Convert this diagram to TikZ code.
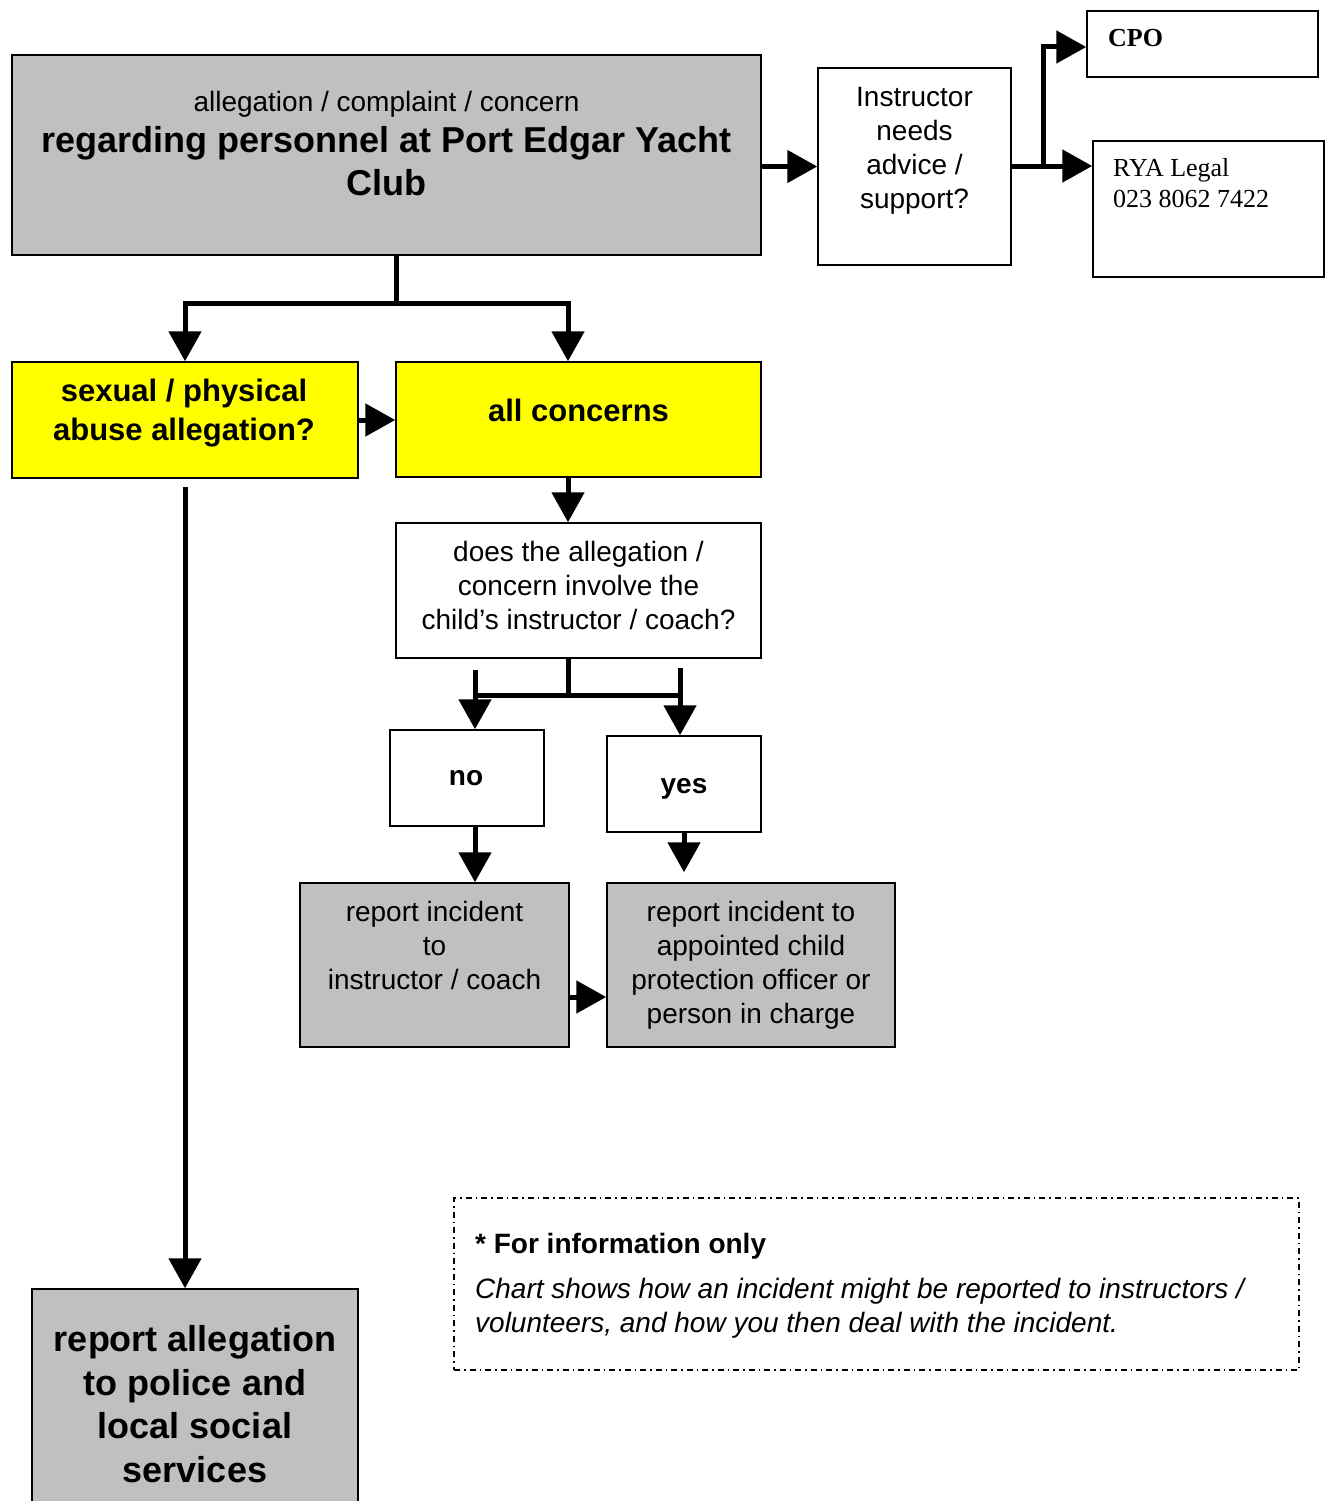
\documentclass[tikz,border=0pt]{standalone}
\usepackage{fontspec}
\setmainfont{Liberation Sans}
\newfontfamily\timesfam{Liberation Serif}
\usetikzlibrary{arrows.meta}
\definecolor{boxgray}{HTML}{C0C0C0}
\definecolor{boxyellow}{HTML}{FFFF00}
\newcommand\setfsz[2]{\fontsize{#1}{#2}\selectfont}
\begin{document}
\begin{tikzpicture}[x=1pt,y=-1pt,
  box/.style={draw=black, line width=1.5pt, inner sep=0pt, rectangle},
  graybox/.style={box, fill=boxgray},
  yelbox/.style={box, fill=boxyellow},
  whitebox/.style={box, fill=white},
  txt/.style={inner sep=0pt, align=center},
  reg/.style={txt, font=\setfsz{28}{34}},
  conn/.style={line width=5pt},
  arr/.style={conn, -{Triangle[length=30pt,width=32pt]}},
  notebox/.style={draw=black, line width=1.2pt, dash pattern=on 6pt off 4pt on 1.5pt off 4pt, inner sep=0pt}
]
\useasboundingbox (0,0) rectangle (1332,1501);
\fill[white] (0,0) rectangle (1332,1501);

% boxes
\node[graybox, minimum width=749pt, minimum height=200pt] (top) at (386.5,155) {};
\node[whitebox, minimum width=193pt, minimum height=197pt] (instr) at (914.5,166.5) {};
\node[whitebox, minimum width=231pt, minimum height=66pt] (cpo) at (1202.5,44) {};
\node[whitebox, minimum width=231pt, minimum height=136pt] (rya) at (1208.5,209) {};
\node[yelbox, minimum width=346pt, minimum height=116pt] (sex) at (185,420) {};
\node[yelbox, minimum width=365pt, minimum height=115pt] (allc) at (578.5,419.5) {};
\node[whitebox, minimum width=365pt, minimum height=135pt] (does) at (578.5,590.5) {};
\node[whitebox, minimum width=154pt, minimum height=96pt] (no) at (467,778) {};
\node[whitebox, minimum width=154pt, minimum height=96pt] (yes) at (684,784) {};
\node[graybox, minimum width=269pt, minimum height=164pt] (repI) at (434.5,965) {};
\node[graybox, minimum width=288pt, minimum height=164pt] (repA) at (751,965) {};
\node[graybox, minimum width=326pt, minimum height=224pt] (repP) at (195,1401) {};
\node[notebox, minimum width=845pt, minimum height=172pt] (note) at (876.5,1284) {};

% texts
\node[reg] (topT1) at (386.5,104) {allegation / complaint / concern};
\node[txt, font=\setfsz{36}{43}\bfseries] (topT2) at (386.5,161) {regarding personnel at Port Edgar Yacht\\ Club};
\node[reg] (instrT) at (914.5,151) {Instructor\\ needs\\ advice /\\ support?};
\node[txt, anchor=west, font=\setfsz{26}{31}\timesfam\bfseries] (cpoT) at (1108,38) {CPO};
\node[txt, anchor=north west, align=left, font=\setfsz{26}{31}\timesfam] (ryaT) at (1113,158) {RYA Legal\\ 023 8062 7422};
\node[txt, font=\setfsz{31}{39}\bfseries] (sexT) at (184,413) {sexual / physical\\ abuse allegation?};
\node[txt, font=\setfsz{31}{39}\bfseries] (allcT) at (578.5,410) {all concerns};
\node[reg] (doesT) at (578.5,585) {does the allegation /\\ concern involve the\\ child’s instructor / coach?};
\node[reg, font=\setfsz{28}{34}\bfseries] (noT) at (466,778) {no};
\node[reg, font=\setfsz{28}{34}\bfseries] (yesT) at (684,789) {yes};
\node[reg] (repIT) at (434.5,945) {report incident\\ to\\ instructor / coach};
\node[reg] (repAT) at (751,965) {report incident to\\ appointed child\\ protection officer or\\ person in charge};
\node[txt, font=\setfsz{36}{43.5}\bfseries] (repPT) at (195,1404) {report allegation\\ to police and\\ local social\\ services};
\node[reg, anchor=west, font=\setfsz{28}{34}\bfseries] (noteT1) at (475,1246) {* For information only};
\node[reg, anchor=west, align=left, font=\setfsz{28}{34}\itshape] (noteT2) at (475,1308) {Chart shows how an incident might be reported to instructors /\\ volunteers, and how you then deal with the incident.};

% coordinates
\coordinate (f1) at (1043,166);
\coordinate (s1) at (396,303);
\coordinate (s1r) at (568,303);
\coordinate (s2) at (568,695);
\coordinate (s2l) at (475,695);
\coordinate (s2r) at (680,695);
\coordinate (n1) at (475,670);
\coordinate (y1) at (680,668);
\coordinate (r1) at (0,997);

% connectors
\draw[arr] (top.east |- instr.west) -- (instr.west);
\draw[conn] (instr.east |- f1) -- (f1);
\draw[arr] (f1) |- ([yshift=-3pt]cpo.west);
\draw[arr] (f1) -- (rya.west |- f1);
\draw[conn] (s1 |- top.south) -- (s1);
\draw[arr] (s1) -| (sex.north);
\draw[arr] (s1) -- (s1r) -- (allc.north -| s1r);
\draw[arr] (sex.east) -- (sex.east -| allc.west);
\draw[arr] (allc.south -| s1r) -- (does.north -| s1r);
\draw[conn] (does.south -| s2) -- (s2);
\draw[conn] (s2l) -- (s2r);
\draw[arr] (n1) -- (no.north -| n1);
\draw[arr] (y1) -- (yes.north -| y1);
\draw[arr] (no.south -| n1) -- (repI.north -| n1);
\draw[arr, shorten >=10pt] (yes.south) -- (repA.north -| yes.south);
\draw[arr] (repI.east |- r1) -- (repA.west |- r1);
\draw[arr, shorten <=8pt] (sex.south) -- (repP.north -| sex.south);
\end{tikzpicture}
\end{document}
